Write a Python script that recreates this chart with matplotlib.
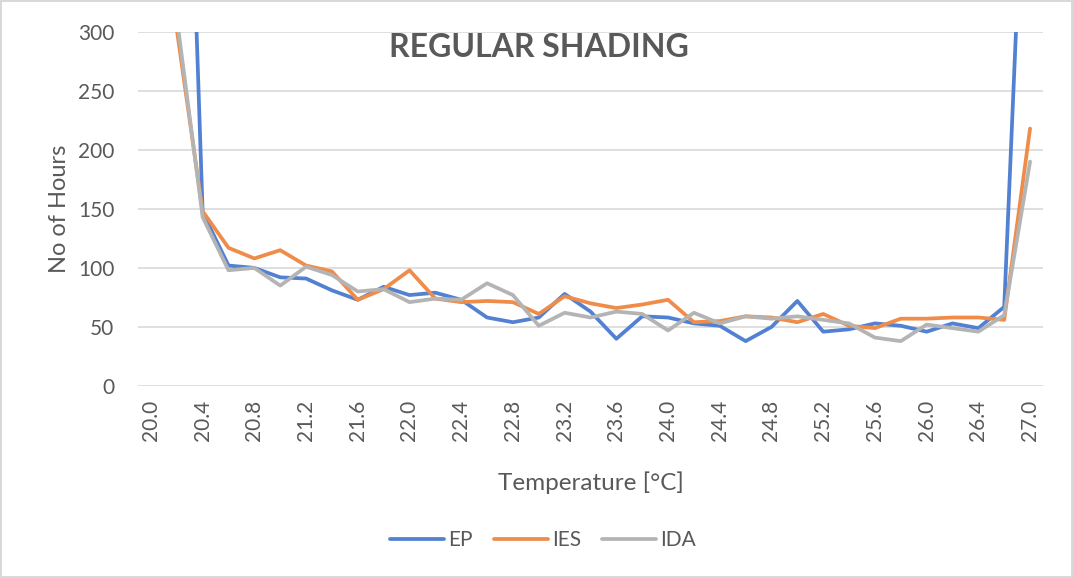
import matplotlib
matplotlib.use("Agg")
import matplotlib.pyplot as plt

plt.rcParams['font.family'] = ['Lato', 'DejaVu Sans']

temps = ["20.0", "20.2", "20.4", "20.6", "20.8", "21.0", "21.2", "21.4", "21.6", "21.8",
         "22.0", "22.2", "22.4", "22.6", "22.8", "23.0", "23.2", "23.4", "23.6", "23.8",
         "24.0", "24.2", "24.4", "24.6", "24.8", "25.0", "25.2", "25.4", "25.6", "25.8",
         "26.0", "26.2", "26.4", "26.6", "27.0"]

ep = [900, 800, 147, 102, 100, 92, 91, 81, 73, 84, 77, 79, 73, 58, 54, 58, 78, 63, 40, 59,
      58, 53, 51, 38, 50, 72, 46, 48, 53, 51, 46, 53, 49, 67, 580]
ies = [700, 302, 148, 117, 108, 115, 102, 97, 73, 82, 98, 74, 71, 72, 71, 61, 76, 70, 66, 69,
       73, 54, 55, 59, 58, 54, 61, 51, 49, 57, 57, 58, 58, 56, 218]
ida = [700, 312, 143, 98, 100, 85, 101, 94, 80, 82, 71, 74, 73, 87, 77, 51, 62, 58, 63, 61,
       47, 62, 53, 59, 57, 59, 56, 53, 41, 38, 52, 49, 46, 60, 190]

txt = "#595959"
grid = "#D9D9D9"

fig = plt.figure(figsize=(10.73, 5.78), dpi=100)
fig.patch.set_edgecolor(grid)
fig.patch.set_linewidth(1.5)
ax = fig.add_axes([138 / 1073, 1 - 386 / 578, (1043 - 138) / 1073, (386 - 31.7) / 578])

x = list(range(len(temps)))
ax.plot(x, ep, color="#5281D2", lw=2.7, label="EP", solid_capstyle="round")
ax.plot(x, ies, color="#F08C4A", lw=2.7, label="IES", solid_capstyle="round")
ax.plot(x, ida, color="#B4B4B4", lw=2.7, label="IDA", solid_capstyle="round")

ax.set_ylim(0, 300)
ax.set_xlim(-0.5, len(temps) - 0.5)
ax.set_yticks(range(0, 301, 50))
ax.set_xticks(x[::2])
ax.set_xticklabels(temps[::2], rotation=90)
ax.tick_params(axis="both", length=0, labelsize=15, labelcolor=txt)
ax.tick_params(axis="x", pad=10)
ax.tick_params(axis="y", pad=17)
ax.grid(axis="y", color=grid, lw=1.2)
ax.set_axisbelow(True)
for s in ax.spines.values():
    s.set_visible(False)

ax.set_ylabel("No of Hours", fontsize=17, color=txt, labelpad=6)
ax.set_xlabel("Temperature [°C]", fontsize=17.5, color=txt, labelpad=22)
ax.text(0.443, 0.954, "REGULAR SHADING", transform=ax.transAxes, fontsize=23,
        fontweight="bold", color=txt, ha="center", va="center")

fig.legend(loc="center", bbox_to_anchor=(543 / 1073, 1 - 540 / 578), ncol=3, frameon=False,
           fontsize=15, labelcolor=txt, handlelength=2.6, handletextpad=0.2, columnspacing=1.0)

fig.savefig("out.png", dpi=100)
